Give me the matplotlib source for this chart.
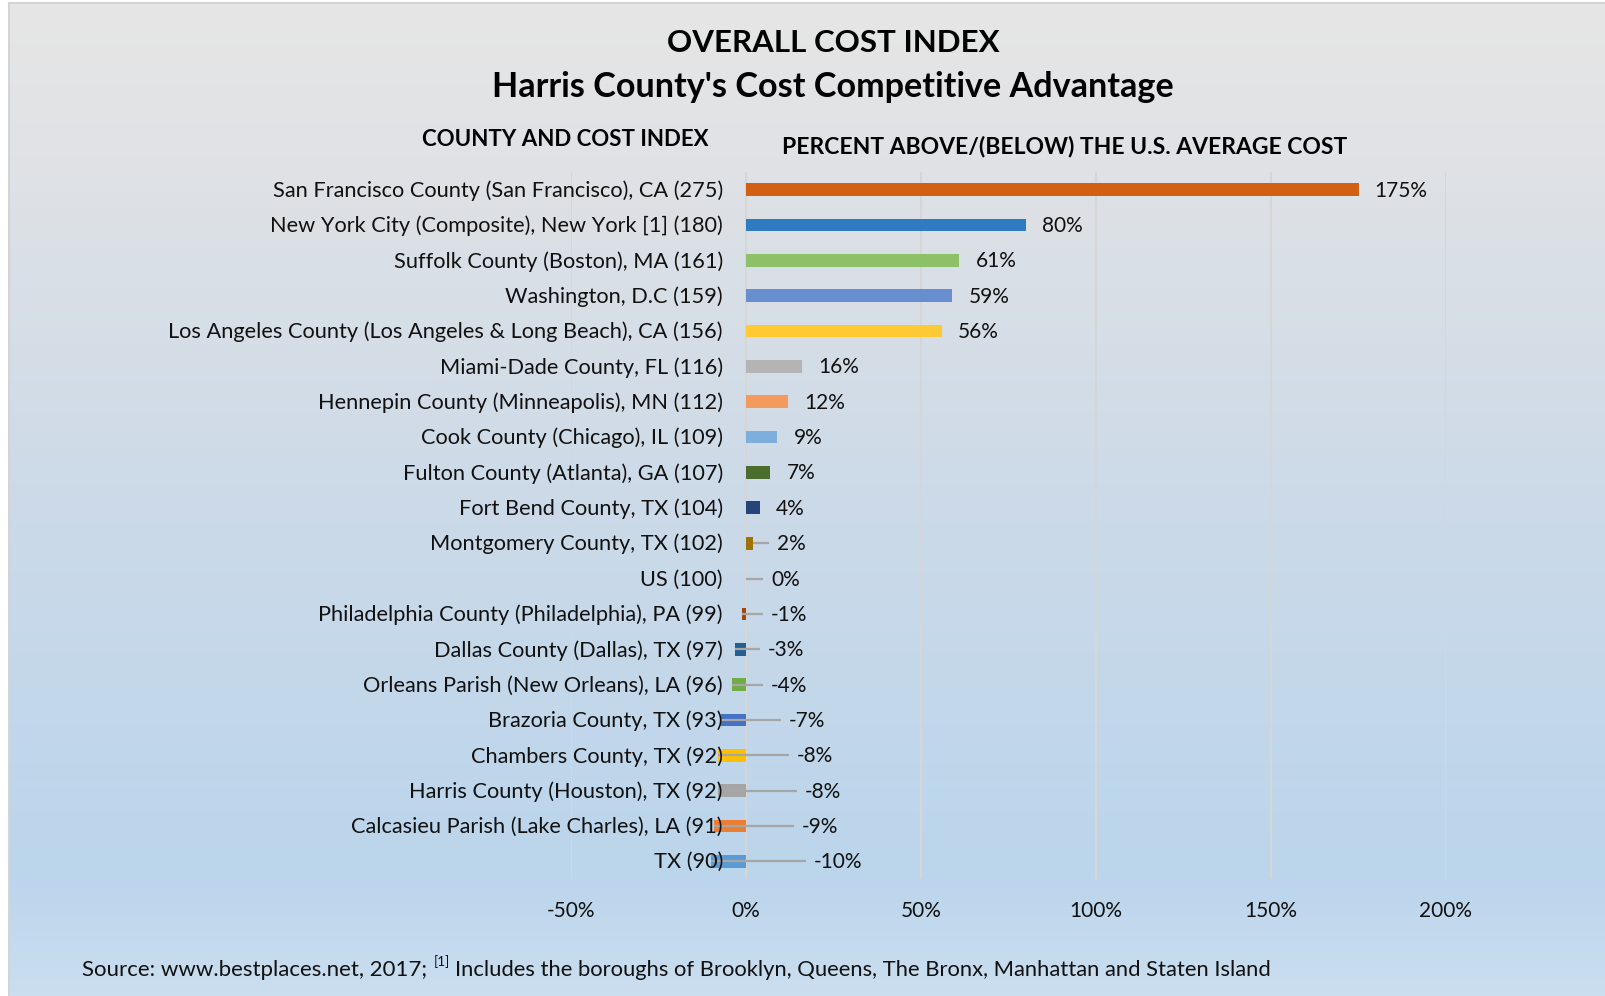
import numpy as np
import matplotlib
matplotlib.use("Agg")
import matplotlib.pyplot as plt
from matplotlib.colors import LinearSegmentedColormap
from matplotlib.lines import Line2D

# ---------------- data ----------------
names = [
    "San Francisco County (San Francisco), CA",
    "New York City (Composite), New York [1]",
    "Suffolk County (Boston), MA",
    "Washington, D.C",
    "Los Angeles County (Los Angeles & Long Beach), CA",
    "Miami-Dade County, FL",
    "Hennepin County (Minneapolis), MN",
    "Cook County (Chicago), IL",
    "Fulton County (Atlanta), GA",
    "Fort Bend County, TX",
    "Montgomery County, TX",
    "US",
    "Philadelphia County (Philadelphia), PA",
    "Dallas County (Dallas), TX",
    "Orleans Parish (New Orleans), LA",
    "Brazoria County, TX",
    "Chambers County, TX",
    "Harris County (Houston), TX",
    "Calcasieu Parish (Lake Charles), LA",
    "TX",
]
cost_index = [275, 180, 161, 159, 156, 116, 112, 109, 107, 104, 102, 100,
              99, 97, 96, 93, 92, 92, 91, 90]
pct_above = [175, 80, 61, 59, 56, 16, 12, 9, 7, 4, 2, 0,
             -1, -3, -4, -7, -8, -8, -9, -10]
x_ticks = [-50, 0, 50, 100, 150, 200]

# ---------------- style ----------------
bar_colors = ["#D26012", "#2F7BC2", "#8CC168", "#698ED0", "#FFC933",
              "#B4B4B4", "#F39A5C", "#7DAFDD", "#4B6E2E", "#264478",
              "#9E7203", "#A5A5A5", "#9E480E", "#255E91", "#70AD47",
              "#4472C4", "#FFC000", "#A5A5A5", "#ED7D31", "#5B9BD5"]
# label positions (pixels right of the zero line) for labels with leader lines
leader_label_px = [None] * 10 + [31, 25, 25, 22, 25, 43, 51, 59, 56, 68]

FONT = "Lato"
W, H = 1606, 996
DPI = 100
fig = plt.figure(figsize=(W / DPI, H / DPI), dpi=DPI)
fig.patch.set_facecolor("white")

def fx(px):
    return px / W

def fy(py):
    return 1 - py / H

# background gradient
bg = fig.add_axes([fx(9), 0, 1 - fx(9), fy(3)], zorder=-5)
cmap = LinearSegmentedColormap.from_list(
    "bg", [(0, "#E6E6E6"), (0.12, "#E2E3E5"), (0.5, "#CCDAE8"),
           (0.88, "#BBD5EC"), (1.0, "#CBDEF0")])
grad = np.linspace(0, 1, 256).reshape(-1, 1)
bg.imshow(grad, aspect="auto", cmap=cmap, extent=[0, 1, 1, 0])
bg.set_xlim(0, 1); bg.set_ylim(1, 0)
bg.axis("off")
fig.add_artist(Line2D([fx(9.5), fx(9.5)], [0, fy(3.5)], color="#D4D4D4", lw=1.5))
fig.add_artist(Line2D([fx(9.5), 1], [fy(3.5), fy(3.5)], color="#D4D4D4", lw=1.5))

# plot axes
ax = fig.add_axes([fx(571), fy(879), fx(1446) - fx(571), fy(172) - fy(879)])
ax.patch.set_alpha(0)
y = np.arange(len(names))
vals = np.array(pct_above) / 100.0
ax.barh(y, vals, height=0.36, color=bar_colors, zorder=3)
ax.set_xlim(-0.5, 2.0)
ax.set_ylim(len(names) - 0.5, -0.5)
ax.set_xticks(np.array(x_ticks) / 100.0)
ax.set_xticklabels([f"{t}%" for t in x_ticks], fontfamily=FONT, fontsize=15,
                   color="#111111")
ax.set_yticks([])
ax.tick_params(axis="x", length=0, pad=16)
ax.xaxis.grid(True, color="#D6D6D6", lw=1.5, zorder=0)
for s in ax.spines.values():
    s.set_visible(False)

PT = 72.0 / DPI  # points per pixel

# category labels
cat_texts = []
for i, (n, c) in enumerate(zip(names, cost_index)):
    t = ax.annotate(f"{n} ({c})", xy=(0, i), xycoords="data",
                    xytext=(-23 * PT, -1 * PT), textcoords="offset points",
                    ha="right", va="center", fontfamily=FONT, fontsize=15,
                    color="#111111", zorder=5)
    cat_texts.append(t)

# value labels
val_texts = []
for i, v in enumerate(pct_above):
    lp = leader_label_px[i]
    if lp is None:
        t = ax.annotate(f"{v}%", xy=(v / 100.0, i), xycoords="data",
                        xytext=(16 * PT, -1 * PT), textcoords="offset points",
                        ha="left", va="center", fontfamily=FONT, fontsize=15,
                        color="#111111", zorder=5)
    else:
        t = ax.annotate(f"{v}%", xy=(0, i), xycoords="data",
                        xytext=(lp * PT, -1 * PT), textcoords="offset points",
                        ha="left", va="center", fontfamily=FONT, fontsize=15,
                        color="#111111", zorder=5)
        # leader line from bar end to label
        bar_end_px = v * 3.5
        x0 = bar_end_px / 350.0
        x1 = (lp - 8) / 350.0
        ax.plot([x0, x1], [i, i], color="#A6A6A6", lw=1.6, zorder=4,
                solid_capstyle="butt")
    val_texts.append(t)

# titles
t1 = fig.text(fx(833), fy(43), "OVERALL COST INDEX", ha="center", va="center",
              fontfamily=FONT, fontweight="bold", fontsize=20, color="black")
t2 = fig.text(fx(833), fy(87), "Harris County's Cost Competitive Advantage",
              ha="center", va="center", fontfamily=FONT, fontweight="bold",
              fontsize=20, color="black")
s1 = fig.text(fx(565), fy(139), "COUNTY AND COST INDEX", ha="center",
              va="center", fontfamily=FONT, fontweight="bold", fontsize=14,
              color="black")
s2 = fig.text(fx(1064.5), fy(146), "PERCENT ABOVE/(BELOW) THE U.S. AVERAGE COST",
              ha="center", va="center", fontfamily=FONT, fontweight="bold",
              fontsize=14, color="black")

src1 = fig.text(fx(82), fy(970), "Source: www.bestplaces.net, 2017;",
                ha="left", va="center", fontfamily=FONT, fontsize=14,
                color="#111111")

renderer = fig.canvas.get_renderer()

def fit(t, target):
    w = t.get_window_extent(renderer).width
    t.set_fontsize(t.get_fontsize() * target / w)

fit(t1, 332)
fit(t2, 680)
fit(s1, 288)
fit(s2, 567)
fit(src1, 346)
fit(cat_texts[0], 453)
cs = cat_texts[0].get_fontsize()
for t in cat_texts:
    t.set_fontsize(cs)
fit(val_texts[0], 53)
vs = val_texts[0].get_fontsize()
for t in val_texts:
    t.set_fontsize(vs)
for lab in ax.get_xticklabels():
    lab.set_fontsize(vs)

sfs = src1.get_fontsize()
sup = fig.text(0, 0, "[1]", fontfamily=FONT, fontsize=sfs * 0.62, color="#111111")
src_bb = src1.get_window_extent(renderer)
sup.set_x(fx(src_bb.x1 + 7))
sup.set_y(fy(970) + 1.5 / H)
sup.set_va("bottom")
sup_bb = sup.get_window_extent(renderer)
src2 = fig.text(fx(sup_bb.x1 + 5), fy(970),
                "Includes the boroughs of Brooklyn, Queens, The Bronx, Manhattan and Staten Island",
                ha="left", va="center", fontfamily=FONT, fontsize=sfs,
                color="#111111")
# stretch the rest of the source line to end where the reference does
w2 = src2.get_window_extent(renderer).width
target2 = 1275 - (sup_bb.x1 + 5)
src2.set_fontsize(sfs * target2 / w2)

fig.savefig("out.png", dpi=DPI)
